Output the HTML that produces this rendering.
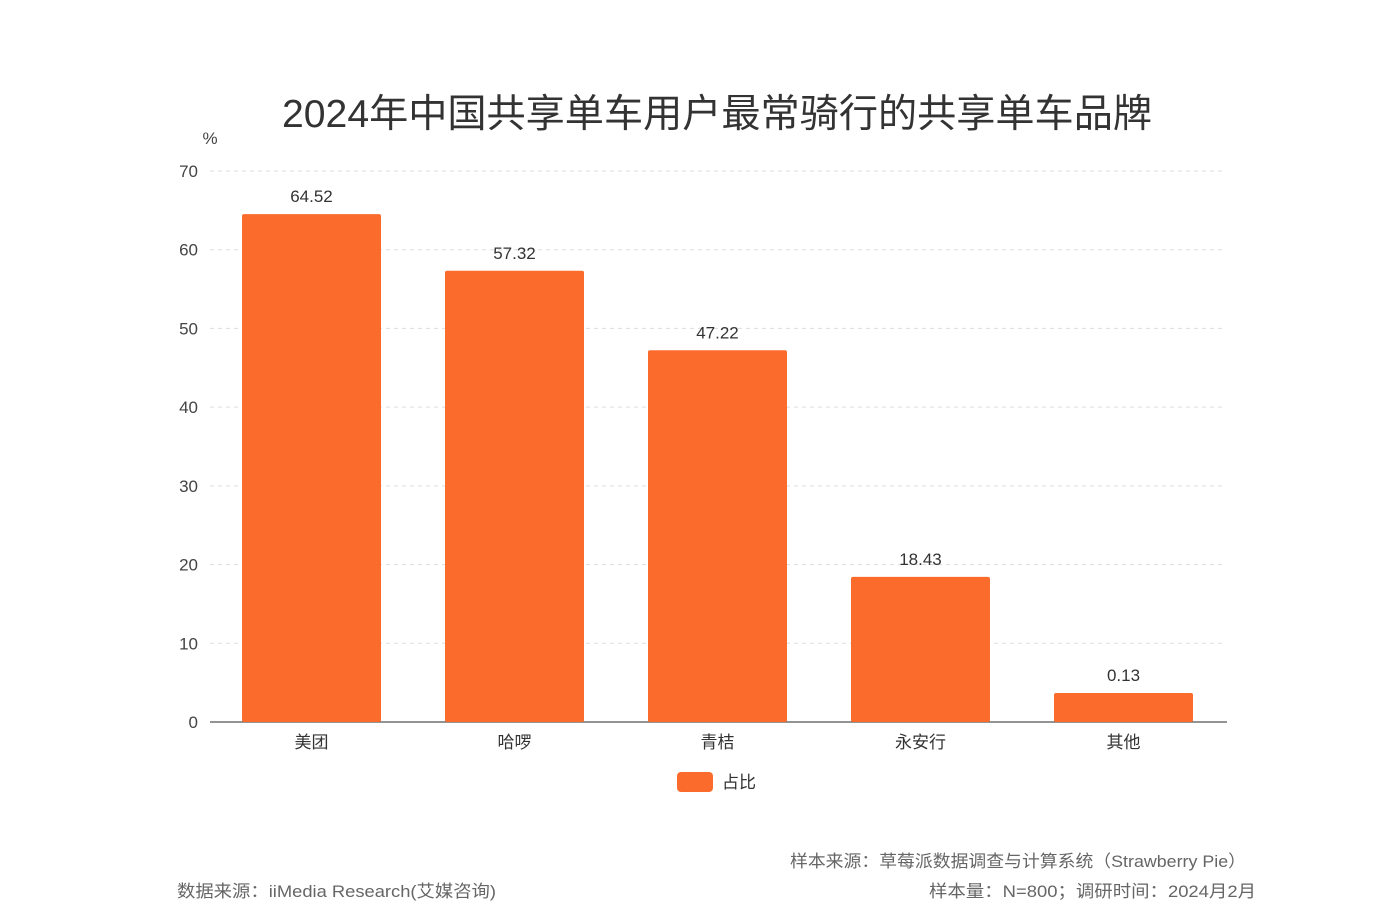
<!DOCTYPE html>
<html><head><meta charset="utf-8">
<style>
body{margin:0;background:#fff;width:1385px;height:908px;overflow:hidden;font-family:"Liberation Sans","Noto Sans CJK SC",sans-serif;}
</style></head>
<body>
<svg id="chart" width="1385" height="908" xmlns="http://www.w3.org/2000/svg" style="font-family:'Liberation Sans','Noto Sans CJK SC',sans-serif">
<text x="717" y="127" text-anchor="middle" font-size="39" fill="#333" textLength="870" lengthAdjust="spacingAndGlyphs">2024年中国共享单车用户最常骑行的共享单车品牌</text>
<text x="210" y="144" text-anchor="middle" font-size="17" fill="#444">%</text>
<g id="grid"></g><g id="bars"></g>
<rect x="677" y="772" width="36" height="20" rx="4" fill="#fb6c2c"/>
<text x="722" y="788" font-size="17" fill="#333">占比</text>
<text x="790" y="867" font-size="17" fill="#666" textLength="456" lengthAdjust="spacingAndGlyphs">样本来源：草莓派数据调查与计算系统（Strawberry Pie）</text>
<text x="177" y="897" font-size="17" fill="#666" textLength="319" lengthAdjust="spacingAndGlyphs">数据来源：iiMedia Research(艾媒咨询)</text>
<text x="929" y="897" font-size="17" fill="#666" textLength="327" lengthAdjust="spacingAndGlyphs">样本量：N=800；调研时间：2024月2月</text>
</svg>
<script>
const categories=["美团","哈啰","青桔","永安行","其他"];
const values=[64.52,57.32,47.22,18.43,0.13];
const yTicks=[0,10,20,30,40,50,60,70];
const ns="http://www.w3.org/2000/svg";
const x0=210,x1=1225,yBase=722,yTop=171,yMax=70,minH=29;
const y=v=>yBase-(v/yMax)*(yBase-yTop);
const band=(x1-x0)/categories.length;
const xb=i=>x0+band*i;
function mk(tag,a,p){const e=document.createElementNS(ns,tag);for(const k in a)e.setAttribute(k,a[k]);p.appendChild(e);return e;}
const g=document.getElementById('grid'),b=document.getElementById('bars');
yTicks.forEach(t=>{
 if(t>0){const l=mk('line',{x1:x0,x2:x1,y1:y(t),y2:y(t),stroke:'#ddd','stroke-dasharray':'4,4'},g);
 
 }
 const tx=mk('text',{x:198,y:y(t)+6,'text-anchor':'end','font-size':17,fill:'#444'},g);tx.textContent=t;
 
 
});
const ax=mk('line',{x1:x0,x2:x1+2,y1:yBase,y2:yBase,stroke:'#555','stroke-width':1.3},g);


values.forEach((v,i)=>{
 const h=Math.max(yBase-y(v),minH);const bx=xb(i)+32,bw=band-64;
 const r=mk('rect',{x:bx,y:yBase-h,width:bw,height:h,fill:'#fb6c2c',rx:2},b);
 
 
 const lt=mk('text',{x:bx+bw/2,y:yBase-h-12,'text-anchor':'middle','font-size':17,fill:'#333'},b);lt.textContent=v.toFixed(2);
 
 
 const ct=mk('text',{x:bx+bw/2,y:748,'text-anchor':'middle','font-size':17,fill:'#333'},b);ct.textContent=categories[i];
 
 
});
</script>
</body></html>
